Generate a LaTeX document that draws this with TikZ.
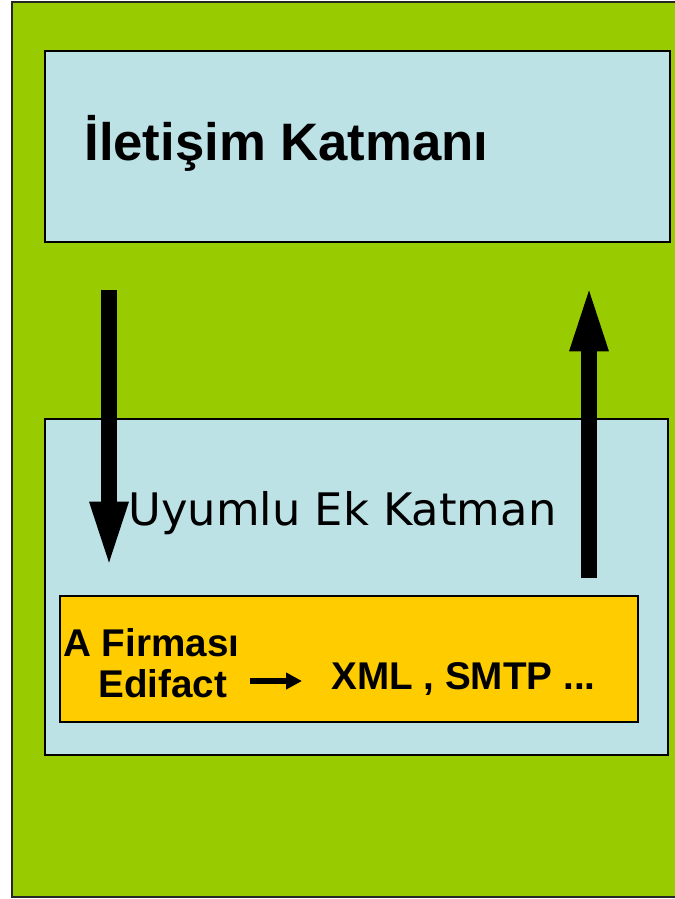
\documentclass[tikz,border=0pt]{standalone}
\usepackage{fontspec}
\setmainfont{Liberation Sans}
\newfontfamily\dejavu{DejaVu Sans}
\usetikzlibrary{arrows.meta}

\definecolor{bggreen}{RGB}{153,204,0}
\definecolor{layerblue}{RGB}{188,226,230}
\definecolor{firmyellow}{RGB}{255,204,0}

\tikzset{
	layerbox/.style = {draw = black, line width = 1.2pt, fill = layerblue},
	layertext/.style = {anchor = base west, inner sep = 0pt},
	bigarrow/.style = {line width = 9.6pt, -{Triangle[length = 40pt, width = 19pt]}},
	smallarrow/.style = {line width = 3.4pt, -{Triangle[length = 9pt, width = 9pt]}}
}

\begin{document}
\begin{tikzpicture}[x = 0.02cm, y = -0.02cm]
	 \useasboundingbox (0, 0) rectangle (675, 899);
	 \fill[white] (0, 0) rectangle (675, 899);
	 
	 % background and layers
	 \draw[fill = bggreen, draw = black!85, line width = 1.2pt] (12, 2) rectangle (700, 897);
	 \draw[layerbox] (45, 51) rectangle (670, 242);
	 \draw[layerbox] (45, 419) rectangle (668, 755);
	 \draw[fill = firmyellow, draw = black, line width = 1.2pt] (60, 596) rectangle (638, 722);
	 
	 % texts
	 \node[layertext, font = \bfseries\fontsize{30}{36}\selectfont] (comm) at (84, 160) {İletişim Katmanı};
	 \node[layertext, font = \dejavu\fontsize{25.5}{30}\selectfont] (adapt) at (128, 525) {Uyumlu Ek Katman};
	 \node[layertext, font = \bfseries\fontsize{22}{26}\selectfont] (firm) at (63, 656) {A Firması};
	 \node[layertext, font = \bfseries\fontsize{22}{26}\selectfont] (edi) at (98, 697) {Edifact};
	 \node[layertext, font = \bfseries\fontsize{22}{26}\selectfont] (xml) at (331, 689) {XML , SMTP ...};
	 
	 % arrows
	 \coordinate (downstart) at (109, 290);
	 \coordinate (downend) at (109, 572);
	 \coordinate (upstart) at (589, 578);
	 \coordinate (upend) at (589, 281);
	 \coordinate (convstart) at (250, 681);
	 \coordinate (convend) at (302, 681);
	 \draw[bigarrow] (downstart) -- (downend);
	 \draw[bigarrow] (upstart) -- (upend);
	 \draw[smallarrow] (convstart) -- (convend);
\end{tikzpicture}
\end{document}
